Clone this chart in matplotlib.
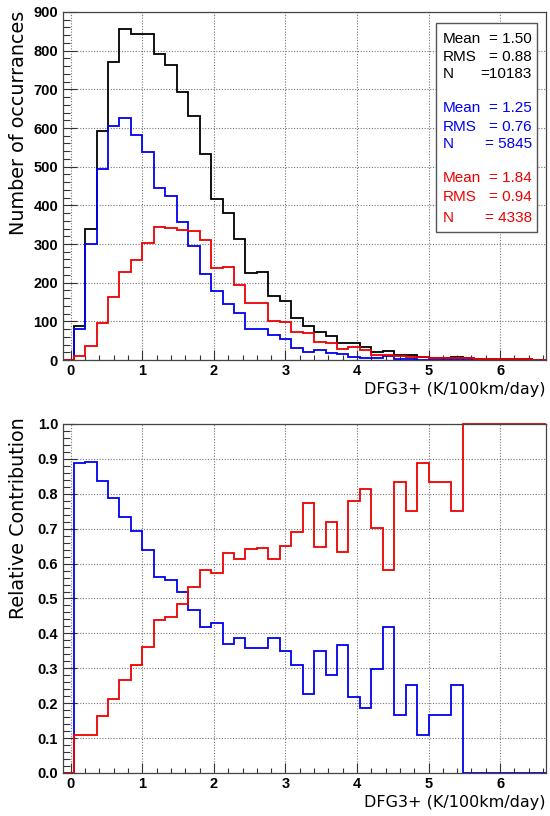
import numpy as np
import matplotlib
matplotlib.use("Agg")
import matplotlib.pyplot as plt
from matplotlib.patches import Rectangle
from matplotlib.ticker import MultipleLocator

# bins of width 0.16 starting at -0.12
bin_edges = np.round(np.arange(-0.12, 6.77, 0.16), 2)

# counts per bin (top panel)
all_counts = [0, 89, 338, 592, 770, 855, 842, 844, 791, 763, 692, 631, 532, 416, 381,
              314, 226, 228, 166, 153, 108, 89, 72, 63, 43, 43, 33, 20, 24, 12, 12,
              9, 6, 6, 8, 4, 3, 2, 2, 3, 2, 1, 1]
blue_counts = [0, 80, 299, 494, 606, 626, 582, 539, 444, 423, 358, 296, 222, 179, 144,
               122, 81, 81, 64, 55, 32, 20, 26, 19, 15, 9, 6, 6, 10, 2, 3,
               1, 1, 1, 2, 0, 0, 0, 0, 0, 0, 0, 0]
red_counts = [0, 10, 37, 97, 164, 228, 259, 302, 345, 341, 336, 334, 310, 239, 240,
              193, 147, 148, 101, 98, 73, 69, 47, 45, 28, 33, 27, 14, 14, 10, 9,
              8, 5, 5, 6, 4, 3, 2, 2, 3, 2, 1, 1]

# relative contribution per bin (bottom panel)
blue_frac = [0, 0.888, 0.891, 0.837, 0.789, 0.733, 0.693, 0.640, 0.561, 0.554, 0.518,
             0.467, 0.419, 0.429, 0.371, 0.387, 0.358, 0.357, 0.386, 0.349, 0.309,
             0.227, 0.350, 0.281, 0.367, 0.219, 0.186, 0.298, 0.417, 0.165, 0.251,
             0.110, 0.165, 0.165, 0.251, 0, 0, 0, 0, 0, 0, 0, 0]
red_frac = [0, 0.110, 0.108, 0.163, 0.211, 0.267, 0.309, 0.362, 0.438, 0.448, 0.483,
            0.533, 0.581, 0.573, 0.629, 0.614, 0.643, 0.644, 0.614, 0.651, 0.691,
            0.773, 0.648, 0.719, 0.633, 0.780, 0.814, 0.701, 0.583, 0.835, 0.750,
            0.889, 0.835, 0.835, 0.750, 1.0, 1.0, 1.0, 1.0, 1.0, 1.0, 1.0, 1.0]

stats = [("black", [("Mean", "= 1.50"), ("RMS", "= 0.88"), ("N", "=10183")]),
         ("#0000ee", [("Mean", "= 1.25"), ("RMS", "= 0.76"), ("N", "= 5845")]),
         ("#ee0000", [("Mean", "= 1.84"), ("RMS", "= 0.94"), ("N", "= 4338")])]
stat_rows = [0.922, 0.871, 0.822, 0.724, 0.670, 0.621, 0.523, 0.468, 0.408]

BLUE = "#0000ee"
RED = "#ee0000"
label_font = "DejaVu Sans"
tick_font = "Liberation Sans"

fig = plt.figure(figsize=(5.5, 8.16), dpi=100)
ax1 = fig.add_axes([0.1145, 0.5588, 0.878, 0.4265])
ax2 = fig.add_axes([0.1145, 0.0527, 0.878, 0.4277])


def style_axis(ax, ymax, ymajor, yminor, yfmt):
    ax.set_xlim(-0.11, 6.64)
    ax.set_ylim(0, ymax)
    ax.xaxis.set_major_locator(MultipleLocator(1))
    ax.xaxis.set_minor_locator(MultipleLocator(0.2))
    ax.yaxis.set_major_locator(MultipleLocator(ymajor))
    ax.yaxis.set_minor_locator(MultipleLocator(yminor))
    ax.tick_params(axis="x", which="major", direction="in", length=7, width=0.8,
                   pad=3, colors="#333333", labelcolor="black")
    ax.tick_params(axis="x", which="minor", direction="in", length=3.5, width=0.8,
                   colors="#333333")
    ax.tick_params(axis="y", which="major", direction="in", length=10, width=0.8,
                   pad=3.5, colors="#333333", labelcolor="black")
    ax.tick_params(axis="y", which="minor", direction="in", length=5, width=0.8,
                   colors="#333333")
    for lab in ax.get_xticklabels() + ax.get_yticklabels():
        lab.set_fontfamily(tick_font)
        lab.set_fontweight("bold")
        lab.set_fontsize(10.5)
    ax.yaxis.set_major_formatter(yfmt)
    ax.grid(True, which="major", color="#777777", linestyle=(0, (1, 1.5)), linewidth=0.8)
    ax.set_axisbelow(True)
    for sp in ax.spines.values():
        sp.set_color("#444444")
        sp.set_linewidth(0.9)
    ax.set_xlabel("DFG3+ (K/100km/day)", family=label_font, fontsize=11.5,
                  loc="right", labelpad=3)


def hist(ax, values, color):
    st = ax.stairs(values, bin_edges, color=color, lw=1.3)
    # let the line sit on the frame at y = max, as ROOT draws it
    st.set_clip_path(Rectangle((0, -0.01), 1, 1.02, transform=ax.transAxes))
    return st


# top panel: distributions
hist(ax1, all_counts, "black")
hist(ax1, blue_counts, BLUE)
hist(ax1, red_counts, RED)
style_axis(ax1, 900, 100, 20, "{x:.0f}")
ax1.set_ylabel("Number of occurrances", family=label_font, fontsize=13.8)
ax1.yaxis.set_label_coords(-0.073, 1.005)
ax1.yaxis.label.set_horizontalalignment("right")

# stats box
ax1.add_patch(Rectangle((0.772, 0.368), 0.209, 0.60, transform=ax1.transAxes,
                        facecolor="white", edgecolor="#555555", lw=1.0, zorder=5))
i = 0
for color, rows in stats:
    for name, val in rows:
        y = stat_rows[i]
        ax1.text(0.787, y, name, transform=ax1.transAxes, color=color, family=tick_font,
                 fontsize=11, va="center", ha="left", zorder=6)
        ax1.text(0.971, y, val, transform=ax1.transAxes, color=color, family=tick_font,
                 fontsize=11, va="center", ha="right", zorder=6)
        i += 1

# bottom panel: relative contribution
hist(ax2, blue_frac, BLUE)
hist(ax2, red_frac, RED)
style_axis(ax2, 1.0, 0.1, 0.02, "{x:.1f}")
ax2.set_ylabel("Relative Contribution", family=label_font, fontsize=13.8)
ax2.yaxis.set_label_coords(-0.073, 1.018)
ax2.yaxis.label.set_horizontalalignment("right")

fig.savefig("out.png", dpi=100)
